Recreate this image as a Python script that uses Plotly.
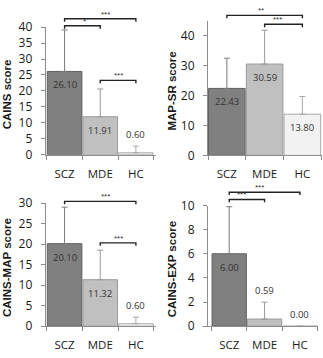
import plotly.graph_objects as go

W, H = 323, 358

categories = ["SCZ", "MDE", "HC"]

cains_mean = [26.10, 11.91, 0.60]
cains_sd = [13.0, 8.7, 2.1]

mapsr_mean = [22.43, 30.59, 13.80]
mapsr_sd = [10.1, 11.3, 5.9]

cainsmap_mean = [20.10, 11.32, 0.60]
cainsmap_sd = [8.9, 7.2, 1.6]

cainsexp_mean = [6.00, 0.59, 0.00]
cainsexp_sd = [3.9, 1.4, 0.0]

titles = ["CAINS score", "MAP-SR score", "CAINS-MAP score", "CAINS-EXP score"]

# significance brackets: (from index, to index, level in y units, stars)
cains_sig = [(0, 2, 42.6, "***"), (0, 1, 40.4, "*"), (1, 2, 23.3, "***")]
mapsr_sig = [(0, 2, 46.9, "**"), (1, 2, 43.9, "***")]
cainsmap_sig = [(0, 2, 30.4, "***"), (1, 2, 20.3, "***")]
cainsexp_sig = [(0, 2, 11.1, "***"), (0, 1, 10.5, "***")]

fills = ["#808080", "#c0c0c0", "#f2f2f2"]
borders = ["#5f5f5f", "#9a9a9a", "#a8a8a8"]

# panel geometry in pixels: x0, x1 (plot left/right), ytop, ybottom
panels = [
    dict(mean=cains_mean, sd=cains_sd, sig=cains_sig, ymax=40, dtick=5,
         px=(45.7, 155.5), py=(19, 153), xr=(-0.53, 2.55), title_x=7),
    dict(mean=mapsr_mean, sd=mapsr_sd, sig=mapsr_sig, ymax=45, dtick=10,
         px=(208, 322), py=(12.6, 153.7), xr=(-0.5, 2.52), title_x=172),
    dict(mean=cainsmap_mean, sd=cainsmap_sd, sig=cainsmap_sig, ymax=30, dtick=5,
         px=(45.7, 155.5), py=(203.7, 333), xr=(-0.53, 2.55), title_x=7),
    dict(mean=cainsexp_mean, sd=cainsexp_sd, sig=cainsexp_sig, ymax=10, dtick=2,
         px=(208, 317.6), py=(206.3, 333), xr=(-0.6, 2.5), title_x=172),
]

fig = go.Figure()
shapes = []
annotations = []

for k, p in enumerate(panels):
    n = "" if k == 0 else str(k + 1)
    xa, ya = "x" + n, "y" + n
    xd = [p["px"][0] / W, p["px"][1] / W]
    yd = [1 - p["py"][1] / H, 1 - p["py"][0] / H]
    for i, cat in enumerate(categories):
        fig.add_trace(go.Bar(
            x=[cat], y=[p["mean"][i]],
            marker=dict(color=fills[i], line=dict(color=borders[i], width=1)),
            error_y=dict(type="data", symmetric=False, array=[p["sd"][i]],
                         arrayminus=[0], color=borders[i] if i else "#7a7a7a",
                         thickness=1, width=3),
            xaxis=xa, yaxis=ya, showlegend=False, width=0.97,
            hoverinfo="skip",
        ))
        # value labels
        v = p["mean"][i]
        inside = v / p["ymax"] > 0.2
        annotations.append(dict(
            x=cat, y=v if inside else v + p["sd"][i], xref=xa, yref=ya,
            text=f"{v:.2f}", showarrow=False,
            yanchor="top" if inside else "bottom",
            yshift=-5 if inside else 3,
            font=dict(family="Open Sans", size=9.5, color="#333333"),
        ))
    fig.layout["xaxis" + n] = dict(
        domain=xd, anchor=ya, range=list(p["xr"]), type="category",
        showline=True, linecolor="#8c8c8c", linewidth=1,
        ticks="outside", tickson="boundaries", ticklen=4, tickcolor="#8c8c8c",
        tickfont=dict(family="Open Sans", size=11.5, color="#1a1a1a"),
        ticklabelstandoff=8,
        showgrid=False, zeroline=False, fixedrange=True,
    )
    fig.layout["yaxis" + n] = dict(
        domain=yd, anchor=xa, range=[0, p["ymax"]], dtick=p["dtick"],
        showline=True, linecolor="#8c8c8c", linewidth=1,
        ticks="outside", ticklen=4, tickcolor="#8c8c8c",
        tickfont=dict(family="Open Sans", size=12, color="#1a1a1a"),
        ticklabelstandoff=6,
        showgrid=False, zeroline=False, fixedrange=True,
    )
    # y axis title
    annotations.append(dict(
        x=p["title_x"] / W, y=(yd[0] + yd[1]) / 2 - 0.01, xref="paper", yref="paper",
        text="<b>" + titles[k] + "</b>", textangle=-90, showarrow=False,
        xanchor="center", yanchor="middle", borderpad=0,
        font=dict(family="Liberation Sans", size=11.5, color="#1a1a1a"),
    ))

    # brackets
    def to_px(i, p=p):
        r0, r1 = p["xr"]
        return (p["px"][0] + (i - r0) / (r1 - r0) * (p["px"][1] - p["px"][0])) / W

    def to_py(v, p=p, yd=yd):
        return yd[0] + v / p["ymax"] * (yd[1] - yd[0])

    drop = 3 / H
    for a, b, lvl, stars in p["sig"]:
        x0, x1, y = to_px(a), to_px(b), to_py(lvl)
        shapes.append(dict(
            type="path", xref="paper", yref="paper",
            path=f"M {x0} {y - drop} L {x0} {y} L {x1} {y} L {x1} {y - drop}",
            line=dict(color="#222222", width=1.4),
        ))
        annotations.append(dict(
            x=(x0 + x1) / 2, y=y, xref="paper", yref="paper", text=stars,
            showarrow=False, yanchor="bottom", yshift=-1, borderpad=0,
            font=dict(family="Liberation Sans", size=8, color="#333333"),
        ))

fig.update_layout(
    width=W, height=H, margin=dict(l=0, r=0, t=0, b=0),
    paper_bgcolor="white", plot_bgcolor="white",
    barmode="overlay", bargap=0.03,
    shapes=shapes, annotations=annotations,
)

fig.write_html("out.html", config=dict(displayModeBar=False),
               post_script="document.body.style.margin='0';document.body.style.overflow='hidden';")
